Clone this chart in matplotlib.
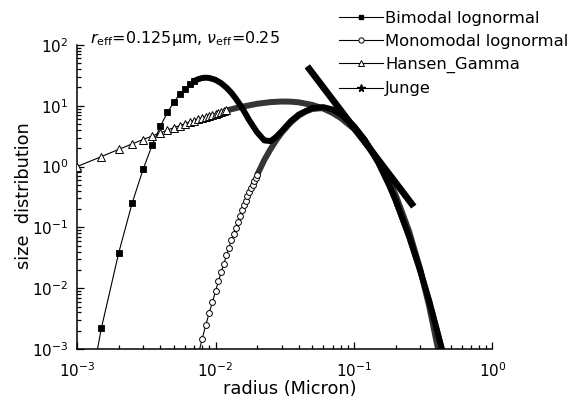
import matplotlib
matplotlib.use('Agg')
import matplotlib.pyplot as plt
from matplotlib.lines import Line2D

# ---------------- data ----------------
# Bimodal lognormal: individually visible square markers
bi_pts_r = [0.001, 0.0015, 0.002, 0.0025, 0.003, 0.0035, 0.004, 0.0045,
            0.005, 0.0055, 0.006, 0.0065, 0.007]
bi_pts_v = [1.5e-5, 2.2e-3, 0.038, 0.25, 0.9, 2.3, 4.6, 7.8,
            11.4, 15.5, 19.0, 22.6, 25.5]
# Bimodal lognormal: dense part (markers merge into a solid band)
bi_band_r = [0.007, 0.0075, 0.008, 0.0085, 0.009, 0.01, 0.011, 0.012, 0.013,
             0.014, 0.015, 0.016, 0.0175, 0.02, 0.0225, 0.025, 0.0275, 0.03,
             0.035, 0.04, 0.05, 0.06, 0.07, 0.08, 0.1, 0.12, 0.15, 0.18, 0.2,
             0.25, 0.3, 0.35, 0.4, 0.45]
bi_band_v = [25.5, 27.4, 28.6, 29.0, 28.7, 26.7, 23.5, 19.9, 16.4,
             13.2, 10.5, 8.3, 5.8, 3.65, 2.7, 2.62, 3.1, 3.8,
             5.6, 7.2, 9.2, 9.5, 8.7, 7.3, 4.6, 2.71, 1.16, 0.49, 0.278,
             0.071, 0.0198, 0.006, 0.0019, 0.00068]

# Monomodal lognormal: visible circles
mono_pts_r = [0.0075, 0.008, 0.0085, 0.009, 0.0095, 0.01, 0.0105, 0.011, 0.0115,
              0.012, 0.0125, 0.013, 0.0135, 0.014, 0.0145, 0.015, 0.0155,
              0.016, 0.0165, 0.017, 0.0175, 0.018, 0.0185, 0.019, 0.0195, 0.02]
mono_pts_v = [8.0e-4, 1.45e-3, 2.45e-3, 3.9e-3, 5.9e-3, 8.9e-3, 0.013, 0.0185, 0.0253,
              0.0347, 0.0464, 0.061, 0.079, 0.099, 0.124, 0.153, 0.19,
              0.23, 0.275, 0.325, 0.38, 0.44, 0.505, 0.575, 0.65, 0.73]
mono_band_r = [0.02, 0.0225, 0.025, 0.0275, 0.03, 0.035, 0.04, 0.045, 0.05,
               0.06, 0.07, 0.08, 0.09, 0.1, 0.12, 0.15, 0.18, 0.2, 0.25,
               0.3, 0.35, 0.4, 0.45]
mono_band_v = [0.73, 1.28, 1.95, 2.74, 3.6, 5.35, 6.9, 8.1, 8.85,
               9.2, 8.45, 7.2, 5.85, 4.6, 2.71, 1.16, 0.49, 0.278, 0.071,
               0.0198, 0.006, 0.0019, 0.00068]

# Hansen gamma: visible triangles
gam_pts_r = [0.001, 0.0015, 0.002, 0.0025, 0.003, 0.0035, 0.004, 0.0045,
             0.005, 0.0055, 0.006, 0.0065, 0.007, 0.0075, 0.008, 0.0085,
             0.009, 0.0095, 0.01, 0.0105, 0.011, 0.0115, 0.012]
gam_pts_v = [1.0, 1.46, 1.92, 2.36, 2.79, 3.2, 3.6, 4.0,
             4.36, 4.72, 5.07, 5.4, 5.73, 6.04, 6.34, 6.63,
             6.91, 7.18, 7.43, 7.68, 7.92, 8.15, 8.37]
gam_band_r = [0.012, 0.015, 0.02, 0.025, 0.03, 0.035, 0.04, 0.05, 0.06, 0.07,
              0.08, 0.1, 0.12, 0.15, 0.18, 0.2, 0.25, 0.3, 0.35, 0.4, 0.43]
gam_band_v = [8.37, 9.5, 10.8, 11.5, 11.76, 11.69, 11.39, 10.34, 9.01, 7.63,
              6.33, 4.18, 2.64, 1.26, 0.58, 0.34, 0.086, 0.021, 0.0049, 0.00113, 0.00047]

# Junge
jun_r = [0.046, 0.06, 0.08, 0.1, 0.13, 0.17, 0.22, 0.27]
jun_v = [44.6, 20.1, 8.48, 4.34, 1.98, 0.883, 0.408, 0.22]

labels = ['Bimodal lognormal', 'Monomodal lognormal', 'Hansen_Gamma', 'Junge']
title_txt = r'$r_{\rm eff}$=0.125μm, $\nu_{\rm eff}$=0.25'

# ---------------- figure ----------------
W, H = 572, 408
fig = plt.figure(figsize=(W / 100, H / 100), dpi=100)
x0, x1, y0, y1 = 77, 492.5, 349, 45
ax = fig.add_axes([x0 / W, 1 - y0 / H, (x1 - x0) / W, (y0 - y1) / H])
ax.set_xscale('log')
ax.set_yscale('log')

band_lw = 4.3
gray = '#353535'
# bands (dense overlapping markers)
ax.plot(mono_band_r, mono_band_v, color=gray, lw=band_lw,
        solid_joinstyle='round', solid_capstyle='butt', zorder=2)
ax.plot(gam_band_r, gam_band_v, color=gray, lw=band_lw,
        solid_joinstyle='round', solid_capstyle='butt', zorder=2)
ax.plot(bi_band_r, bi_band_v, color='black', lw=band_lw,
        solid_joinstyle='round', solid_capstyle='round', zorder=3)
ax.plot(jun_r, jun_v, color='black', lw=4.8, solid_capstyle='butt', zorder=4)

# sparse parts with individual markers
ax.plot(bi_pts_r, bi_pts_v, color='black', lw=0.8, marker='s', ms=3.8,
        mfc='black', mec='black', mew=0.6, zorder=3)
ax.plot(mono_pts_r, mono_pts_v, color='black', lw=0.8, marker='o', ms=4.2,
        mfc='white', mec='black', mew=0.7, zorder=3)
ax.plot(gam_pts_r, gam_pts_v, color='black', lw=0.8, marker='^', ms=5.2,
        mfc='white', mec='black', mew=0.7, zorder=3)

ax.set_xlim(1e-3, 1)
ax.set_ylim(1e-3, 1e2)
for s in ['top', 'right']:
    ax.spines[s].set_visible(False)
for s in ['left', 'bottom']:
    ax.spines[s].set_linewidth(1.1)
ax.tick_params(which='both', direction='in', top=False, right=False, width=0.9)
ax.tick_params(which='major', length=5, labelsize=11)
ax.tick_params(which='minor', length=3)
ax.tick_params(axis='x', which='major', pad=9)
ax.tick_params(axis='y', which='major', pad=6)

fig.text(90 / W, 1 - 43 / H, title_txt, fontsize=11.5, ha='left', va='baseline')
fig.text(290 / W, 1 - 389 / H, 'radius (Micron)', fontsize=12.8,
         ha='center', va='center')
fig.text(24 / W, 1 - 196 / H, 'size  distribution', fontsize=12.8,
         rotation=90, ha='center', va='center')

handles = [
    Line2D([], [], color='black', lw=0.8, marker='s', ms=3.5, mfc='black', mec='black'),
    Line2D([], [], color='black', lw=0.8, marker='o', ms=3.8, mfc='white', mec='black', mew=0.7),
    Line2D([], [], color='black', lw=0.8, marker='^', ms=4.5, mfc='white', mec='black', mew=0.7),
    Line2D([], [], color='black', lw=0.8, marker='*', ms=5.5, mfc='black', mec='black'),
]
fig.legend(handles, labels, loc='upper left', bbox_to_anchor=(339 / W, 1 - 11 / H),
           frameon=False, fontsize=11.8, handlelength=2.7, handletextpad=0.1,
           labelspacing=0.49, borderpad=0, borderaxespad=0)

fig.savefig('out.png', dpi=100)
